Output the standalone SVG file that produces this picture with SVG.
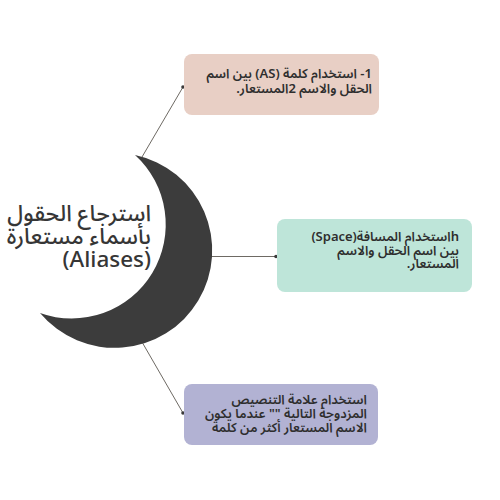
<svg xmlns="http://www.w3.org/2000/svg" width="500" height="500" viewBox="0 0 500 500">
<style>
.t{font-family:"Noto Sans Arabic","Noto Sans","DejaVu Sans",sans-serif;fill:#2e2e2e;direction:rtl;text-anchor:start;font-weight:600}
.b{font-size:13px}
.title{font-size:22.5px;font-weight:500;fill:#363636}
.c{stroke:#6e6a64;stroke-width:1;fill:none}
.d{fill:#3a3a3a}
</style>
<rect width="500" height="500" fill="#ffffff"/>
<g id="connectors">
<line class="c" x1="142" y1="157" x2="183" y2="87"/>
<line class="c" x1="211" y1="256.5" x2="276" y2="256.5"/>
<line class="c" x1="142" y1="342" x2="183" y2="413"/>
<circle class="d" cx="183" cy="87" r="1.8"/>
<circle class="d" cx="276" cy="256.5" r="1.8"/>
<circle class="d" cx="183" cy="413" r="1.8"/>
</g>
<g id="center">
<path d="M135 155 A97.5 97.5 0 1 1 40 313 A94 94 0 0 0 135 155 Z" fill="#3c3c3c"/>
<text class="t title" x="151" y="221">استرجاع الحقول</text>
<text class="t title" x="151" y="244">بأسماء مستعارة</text>
<text class="t title" x="151" y="267">(Aliases)</text>
</g>
<g id="node1">
<rect x="184" y="54" width="195" height="61" rx="8" fill="#e8cfc5"/>
<text class="t b" x="372" y="78">1- استخدام كلمة (AS) بين اسم</text>
<text class="t b" x="372" y="93">الحقل والاسم 2المستعار.</text>
</g>
<g id="node2">
<rect x="277" y="219" width="195" height="73" rx="8" fill="#bee5d9"/>
<text class="t b" x="459" y="241">hاستخدام المسافة(Space)</text>
<text class="t b" x="459" y="254.5">بين اسم الحقل والاسم</text>
<text class="t b" x="459" y="268">المستعار.</text>
</g>
<g id="node3">
<rect x="184" y="384" width="194" height="61" rx="8" fill="#b2b2d3"/>
<text class="t b" x="367" y="404">استخدام علامة التنصيص</text>
<text class="t b" x="367" y="418">المزدوجة التالية "" عندما يكون</text>
<text class="t b" x="367" y="432">الاسم المستعار أكثر من كلمة</text>
</g>
</svg>
